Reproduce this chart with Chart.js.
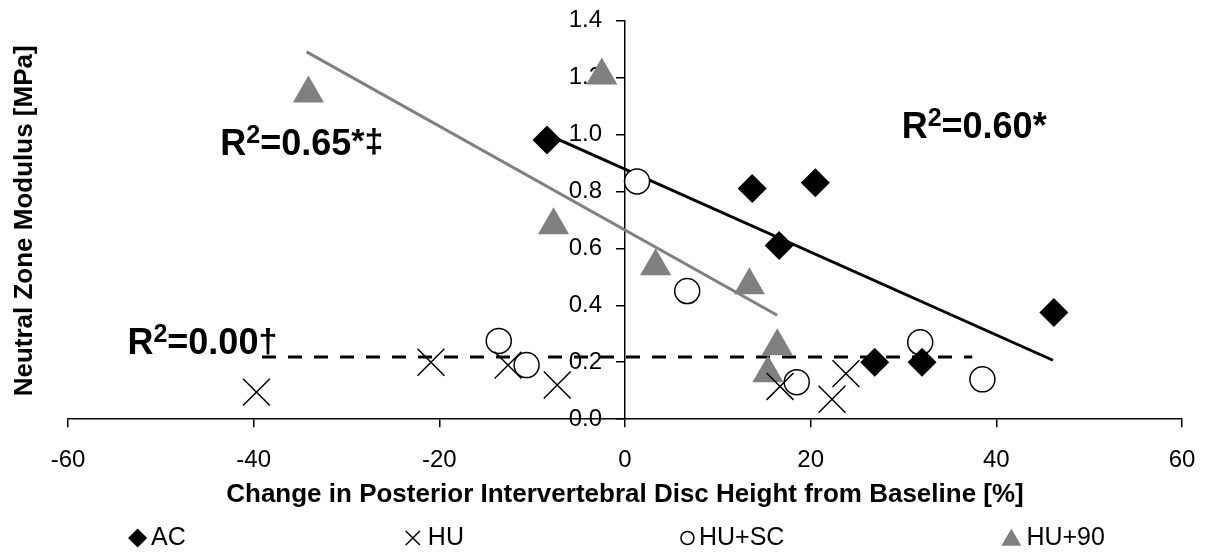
<!DOCTYPE html>
<html>
<head>
<meta charset="utf-8">
<script src="https://cdn.jsdelivr.net/npm/chart.js@4.4.0/dist/chart.umd.min.js"></script>
<style>
html, body { margin: 0; padding: 0; background: #fff; }
</style>
</head>
<body>
<canvas id="myChart" width="1206" height="555"></canvas>
<script>
// categories / series
const seriesNames = ['AC', 'HU', 'HU+SC', 'HU+90'];

const acX   = [-8.4, 13.7, 16.6, 20.5, 26.9, 32.0, 46.2];
const acY   = [0.98, 0.81, 0.61, 0.83, 0.20, 0.20, 0.375];
const huX   = [-39.7, -20.9, -12.6, -7.3, 16.7, 22.3, 23.8];
const huY   = [0.095, 0.20, 0.19, 0.12, 0.115, 0.07, 0.16];
const huscX = [-13.6, -10.6, 1.3, 6.7, 18.5, 31.8, 38.5];
const huscY = [0.275, 0.19, 0.835, 0.45, 0.13, 0.27, 0.14];
const hu90X = [-34.1, -7.7, -2.5, 3.3, 13.4, 15.4, 16.4];
const hu90Y = [1.144, 0.681, 1.207, 0.537, 0.47, 0.161, 0.256];

// trend lines (end points of the fitted lines)
const acFitX   = [-8.4, 46.1];
const acFitY   = [1.0, 0.207];
const hu90FitX = [-34.3, 16.4];
const hu90FitY = [1.29, 0.365];
const huFitX   = [-39.1, 37.4];
const huFitY   = [0.218, 0.218];

// tick labels
const xTickValues = [-60, -40, -20, 0, 20, 40, 60];
const xTickLabels = ['-60', '-40', '-20', '0', '20', '40', '60'];
const yTickValues = [0, 0.2, 0.4, 0.6, 0.8, 1.0, 1.2, 1.4];
const yTickLabels = ['0.0', '0.2', '0.4', '0.6', '0.8', '1.0', '1.2', '1.4'];

const r2Values = ['0.65', '0.60', '0.00'];
const r2Marks  = ['*\u2021', '*', '\u2020'];

const FONT = '"Liberation Sans", Arial, sans-serif';
const GREY = '#808080';

function pts(xs, ys) {
    return xs.map((x, i) => ({x: x, y: ys[i]}));
}

// where each R² note sits, in data units (left / baseline)
const r2Anchors = [
    {x: -43.6, y: 0.926, markSize: 34, markDy: -3},
    {x: 29.8, y: 0.989, markSize: 36, markDy: 0},
    {x: -53.6, y: 0.228, markSize: 34, markDy: -2}
];

const markerStyles = [
    {pointStyle: 'rectRot', radius: 14.5, fill: '#000', stroke: '#000', border: 0, legendRadius: 8.5},
    {pointStyle: 'crossRot', radius: 19, fill: '#000', stroke: '#000', border: 1.5, legendRadius: 10},
    {pointStyle: 'circle', radius: 12.5, fill: '#fff', stroke: '#000', border: 1.5, legendRadius: 6.5},
    {pointStyle: 'triangle', radius: 18, fill: GREY, stroke: GREY, border: 0, legendRadius: 10}
];

const seriesData = [pts(acX, acY), pts(huX, huY), pts(huscX, huscY), pts(hu90X, hu90Y)];

const datasets = seriesNames.map((name, i) => ({
    label: name,
    data: seriesData[i],
    pointStyle: markerStyles[i].pointStyle,
    pointRadius: markerStyles[i].radius,
    pointHoverRadius: markerStyles[i].radius,
    backgroundColor: markerStyles[i].fill,
    borderColor: markerStyles[i].stroke,
    borderWidth: markerStyles[i].border,
    showLine: false
}));

function trend(data, color, dash) {
    return {
        label: 'trend',
        data: data,
        showLine: true,
        pointRadius: 0,
        borderColor: color,
        borderWidth: 3,
        borderDash: dash,
        fill: false
    };
}
datasets.push(trend(pts(acFitX, acFitY), '#000', []));
datasets.push(trend(pts(hu90FitX, hu90FitY), GREY, []));
datasets.push(trend(pts(huFitX, huFitY), '#000', [14, 12]));

function drawRich(ctx, segs, x, y) {
    let cx = x;
    segs.forEach(s => {
        ctx.font = 'bold ' + s.size + 'px ' + FONT;
        ctx.fillText(s.text, cx, y + (s.dy || 0));
        cx += ctx.measureText(s.text).width;
    });
}

// keep the plot box where the layout padding puts it
function noAutoPadding(scale) {
    scale.paddingLeft = 0;
    scale.paddingRight = 0;
    scale.paddingTop = 0;
    scale.paddingBottom = 0;
}

const extrasPlugin = {
    id: 'extras',
    afterDraw(chart) {
        const ctx = chart.ctx;
        const xs = chart.scales.x, ys = chart.scales.y;
        const area = chart.chartArea;
        ctx.save();
        ctx.fillStyle = '#000';
        ctx.textBaseline = 'alphabetic';
        ctx.textAlign = 'left';

        // R² notes
        r2Values.forEach((v, i) => {
            const a = r2Anchors[i];
            drawRich(ctx, [
                {text: 'R', size: 36},
                {text: '2', size: 25, dy: -12},
                {text: '=' + v, size: 36},
                {text: r2Marks[i], size: a.markSize, dy: a.markDy}
            ], xs.getPixelForValue(a.x), ys.getPixelForValue(a.y));
        });

        // x axis title
        ctx.textAlign = 'center';
        ctx.textBaseline = 'middle';
        ctx.font = 'bold 26px ' + FONT;
        ctx.fillText('Change in Posterior Intervertebral Disc Height from Baseline [%]',
            (area.left + area.right) / 2, area.bottom + 76);

        // y axis title at the left edge
        ctx.save();
        ctx.translate(25, (area.top + area.bottom) / 2 + 1);
        ctx.rotate(-Math.PI / 2);
        ctx.fillText('Neutral Zone Modulus [MPa]', 0, 0);
        ctx.restore();

        // legend
        ctx.textAlign = 'left';
        ctx.font = '25px ' + FONT;
        const gap = 5, spacing = 217;
        const widths = seriesNames.map((n, i) => 2 * markerStyles[i].legendRadius + gap + ctx.measureText(n).width);
        const total = widths.reduce((a, b) => a + b, 0) + spacing * (seriesNames.length - 1);
        let lx = (area.left + area.right) / 2 - 8 - total / 2;
        const ly = chart.height - 17;
        seriesNames.forEach((n, i) => {
            const m = markerStyles[i];
            ctx.fillStyle = m.fill;
            ctx.strokeStyle = m.stroke;
            ctx.lineWidth = m.border || 1.5;
            const cy = m.pointStyle === 'triangle' ? ly + 2 : ly;
            Chart.helpers.drawPoint(ctx, {pointStyle: m.pointStyle, radius: m.legendRadius, rotation: 0, borderWidth: m.border || 1.5}, lx + m.legendRadius, cy);
            ctx.fillStyle = '#000';
            ctx.fillText(n, lx + 2 * m.legendRadius + gap, ly);
            lx += widths[i] + spacing;
        });
        ctx.restore();
    }
};

Chart.defaults.font.family = FONT;
Chart.defaults.color = '#000';

const chartSettings = {
    type: 'scatter',
    data: {datasets: datasets},
    options: {
        responsive: false,
        animation: false,
        layout: {
            padding: {left: 68, right: 24, top: 20, bottom: 61}
        },
        plugins: {
            legend: {display: false},
            tooltip: {enabled: false}
        },
        scales: {
            x: {
                type: 'linear',
                min: -60,
                max: 60,
                afterBuildTicks: axis => { axis.ticks = xTickValues.map(v => ({value: v})); },
                afterFit: noAutoPadding,
                ticks: {
                    color: '#000',
                    font: {size: 24},
                    padding: 19,
                    maxRotation: 0,
                    callback: (v, i) => xTickLabels[i]
                },
                grid: {
                    drawOnChartArea: false,
                    drawTicks: true,
                    tickLength: 8,
                    color: '#000',
                    lineWidth: 1.5
                },
                border: {display: true, color: '#000', width: 1.5}
            },
            y: {
                type: 'linear',
                position: 'center',
                min: 0,
                max: 1.4,
                afterBuildTicks: axis => { axis.ticks = yTickValues.map(v => ({value: v})); },
                afterFit: noAutoPadding,
                ticks: {
                    color: '#000',
                    font: {size: 24},
                    padding: 15,
                    callback: (v, i) => yTickLabels[i]
                },
                grid: {
                    drawOnChartArea: false,
                    drawTicks: true,
                    tickLength: 8,
                    color: '#000',
                    lineWidth: 1.5
                },
                border: {display: true, color: '#000', width: 1.5}
            }
        }
    },
    plugins: [extrasPlugin]
};

window.onload = function() {
    const ctx = document.getElementById('myChart').getContext('2d');
    new Chart(ctx, chartSettings);
};
</script>
</body>
</html>
